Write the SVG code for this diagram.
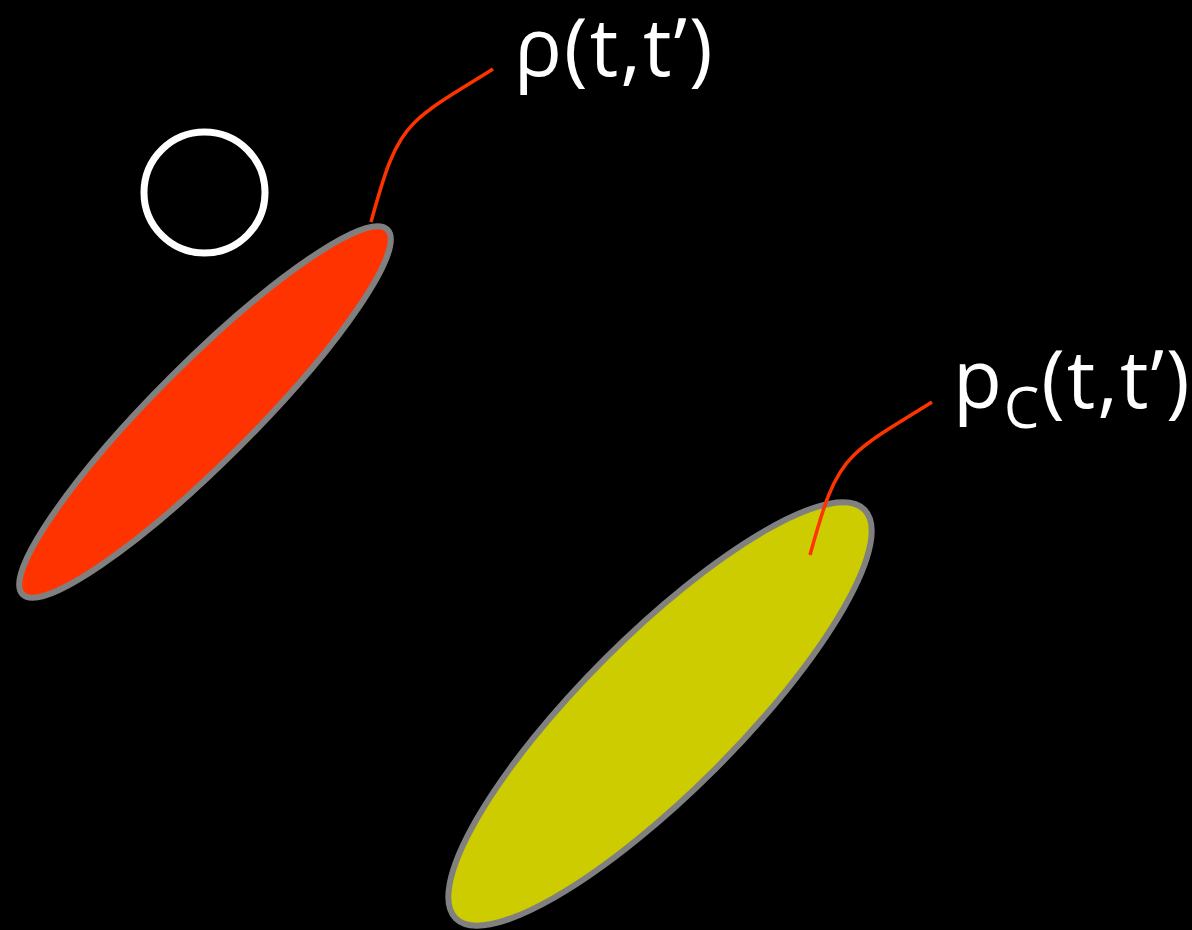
<svg xmlns="http://www.w3.org/2000/svg" width="1192" height="930" viewBox="0 0 1192 930">
<style>
.blob{stroke:#808080;stroke-width:6}
.leader{fill:none;stroke:#ff3300;stroke-width:3.5}
.lbl{fill:#ffffff;font-family:"Open Sans","Noto Sans",sans-serif;font-size:80px;letter-spacing:2px}
</style>
<rect width="1192" height="930" fill="#000000"/>
<g id="circle">
<circle cx="204.5" cy="192.5" r="60.5" fill="none" stroke="#ffffff" stroke-width="7"/>
</g>
<g id="rho-ellipse">
<ellipse class="blob" cx="205" cy="412" rx="258" ry="49" fill="#ff3300" transform="rotate(-45 205 412)"/>
</g>
<g id="pc-ellipse">
<ellipse class="blob" cx="660" cy="714" rx="289" ry="78" fill="#cccc00" transform="rotate(-45 660 714)"/>
</g>
<g id="connectors">
<path class="leader" d="M371,222 C384,175 393,143 415,122 C435,103 460,90 493,69"/>
<path class="leader" d="M810,555 C823,508 832,476 854,455 C874,436 899,423 932,402"/>
</g>
<g id="label-rho">
<text class="lbl" x="514" y="76">ρ(t,t’)</text>
</g>
<g id="label-pc">
<text class="lbl" x="953" y="408">p<tspan font-size="56" dy="20">C</tspan><tspan dy="-20">(t,t’)</tspan></text>
</g>
</svg>
